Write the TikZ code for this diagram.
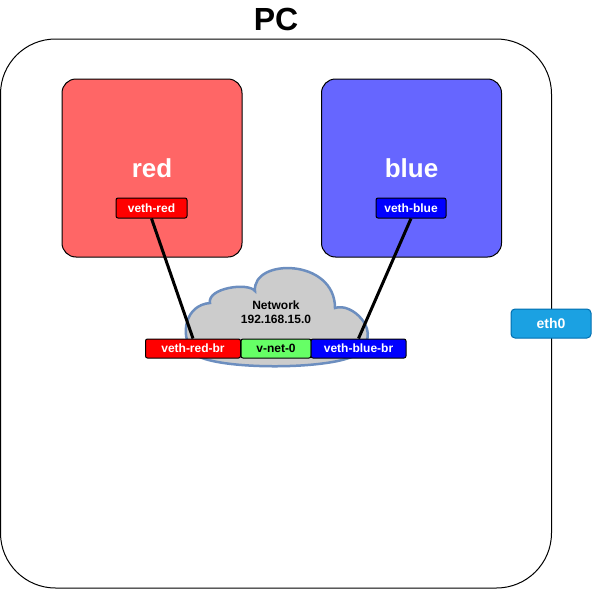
\documentclass[tikz,border=0pt]{standalone}
\usepackage{fontspec}
\setmainfont{Liberation Sans}
\definecolor{redbg}{HTML}{FF6666}
\definecolor{bluebg}{HTML}{6666FF}
\definecolor{cloudbg}{HTML}{CCCCCC}
\definecolor{cloudline}{HTML}{6C8EBF}
\definecolor{netgreen}{HTML}{66FF66}
\definecolor{ethbg}{HTML}{1BA1E2}
\definecolor{ethline}{HTML}{006EAF}
\begin{document}
\begin{tikzpicture}[x=1pt,y=-1pt,
	nsbox/.style={draw=black,line width=1pt,rounded corners=14pt,inner sep=0pt,minimum width=180pt,minimum height=178pt,text=white,font=\bfseries\fontsize{26}{26}\selectfont},
	veth/.style={draw=black,line width=1pt,rounded corners=2pt,inner sep=0pt,minimum height=20pt,text=white,font=\bfseries\fontsize{12}{12}\selectfont},
	link/.style={line width=3pt,black}]
	\useasboundingbox(0,0)rectangle(592,589);
	\node(title)at(276,19)[font=\bfseries\fontsize{32}{32}\selectfont]{PC};
	\node(pc)at(276,313.5)[draw,line width=1pt,rounded corners=55pt,minimum width=551pt,minimum height=549pt,inner sep=0pt]{};
	\node(red)at(152,168)[nsbox,fill=redbg]{red};
	\node(blue)at(411.5,168)[nsbox,fill=bluebg]{blue};
	\node(vred)at(151.5,208)[veth,fill=red,minimum width=71pt]{veth-red};
	\node(vblue)at(411,208)[veth,fill=blue,minimum width=70pt]{veth-blue};
	% cloud
	\draw[draw=cloudline,line width=2.5pt,fill=cloudbg](210,303)
		.. controls (207,288) and (248,282) .. (255,291)
		.. controls (252,258) and (335,258) .. (335,308)
		.. controls (352,302) and (380,330) .. (362,348)
		.. controls (360,372) and (195,372) .. (192,350)
		.. controls (180,335) and (185,305) .. cycle;
	\node(net)at(276,312)[align=center,font=\bfseries\fontsize{12}{14}\selectfont]{Network\\192.168.15.0};
	\node(vredbr)at(193,348.5)[veth,fill=red,minimum width=95pt,minimum height=19pt]{veth-red-br};
	\node(vnet)at(276,348.5)[veth,fill=netgreen,text=black,minimum width=70pt,minimum height=19pt]{v-net-0};
	\node(vbluebr)at(358.5,348.5)[veth,fill=blue,minimum width=95pt,minimum height=19pt]{veth-blue-br};
	\node(eth)at(551,323.5)[draw=ethline,line width=1pt,fill=ethbg,rounded corners=4pt,inner sep=0pt,minimum width=80pt,minimum height=29pt,text=white,font=\bfseries\fontsize{14}{14}\selectfont]{eth0};
	\draw[link](vred.south)--(vredbr.north);
	\draw[link](vblue.south)--(vbluebr.north);
\end{tikzpicture}
\end{document}
